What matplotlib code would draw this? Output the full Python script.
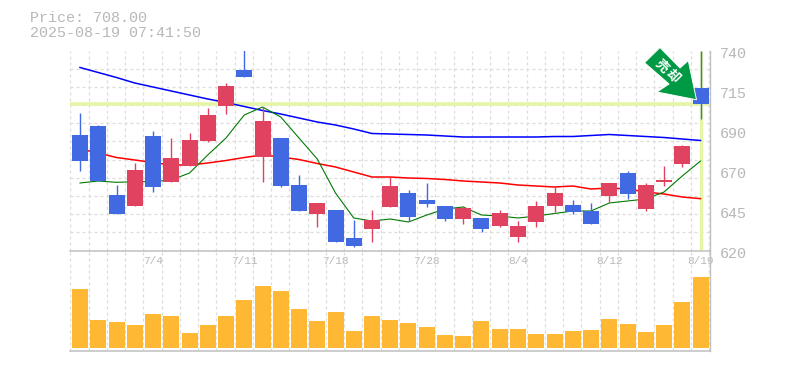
import matplotlib
matplotlib.use("Agg")
import matplotlib.pyplot as plt
import matplotlib.transforms as mtrans
from matplotlib.patches import Polygon
import numpy as np

# daily prices, blue = close below open, red = close above open
opens = [689.3, 694.7, 653.3, 646.7, 688.7, 661.1, 670.7, 685.7, 706.7, 728.3, 676.3, 687.5,
         659.3, 641.9, 644.3, 627.5, 632.9, 646.1, 654.5, 650.3, 646.7, 638.9, 639.5, 634.7,
         628.1, 637.1, 646.7, 647.3, 643.7, 652.7, 666.5, 644.9, 661.1, 671.9, 717.5]
closes = [673.9, 661.7, 641.9, 668.3, 658.1, 675.5, 686.3, 701.3, 718.7, 724.1, 697.7, 658.7,
          643.7, 648.5, 625.1, 622.7, 638.3, 658.7, 640.1, 647.9, 638.9, 645.5, 632.9, 642.5,
          634.7, 646.7, 654.5, 643.1, 635.9, 660.5, 653.9, 659.3, 662.3, 682.7, 708.0]
highs = [702.5, 695.5, 659.3, 672.5, 691.7, 687.5, 690.5, 705.5, 720.5, 745.0, 706.3, 687.5,
         665.3, 648.5, 644.3, 638.3, 644.3, 664.1, 656.3, 660.5, 646.7, 646.7, 639.5, 644.3,
         637.7, 649.7, 658.1, 650.3, 648.5, 660.5, 667.7, 660.5, 670.7, 683.3, 739.7]
lows = [667.9, 661.7, 641.9, 646.7, 655.1, 661.1, 670.7, 685.1, 701.9, 724.1, 661.1, 658.1,
        643.7, 634.1, 625.1, 622.1, 625.1, 646.1, 637.7, 646.1, 637.7, 635.9, 631.1, 634.1,
        625.1, 634.1, 643.1, 641.9, 635.9, 649.1, 650.9, 643.7, 658.7, 670.1, 698.9]

ma_long = [729.8, 726.8, 723.8, 720.5, 718.1, 715.7, 713.3, 710.9, 708.8, 706.4, 704.0, 701.9,
           699.5, 697.1, 695.3, 692.9, 690.2, 689.9, 689.6, 689.3, 688.7, 688.1, 688.1, 688.1,
           688.1, 688.1, 688.4, 688.4, 689.0, 689.6, 689.0, 688.4, 687.8, 686.9, 686.0]
ma_mid = [680.9, 678.5, 675.8, 674.3, 672.8, 671.3, 671.3, 672.5, 674.0, 675.8, 677.3, 676.1,
          674.6, 672.2, 670.1, 667.1, 664.1, 664.1, 663.5, 663.2, 662.6, 661.7, 661.1, 660.5,
          659.3, 658.7, 658.1, 658.7, 656.9, 657.5, 656.9, 655.1, 653.9, 652.1, 651.1]
ma_short = [660.5, 661.7, 660.9, 661.3, 661.3, 662.3, 666.5, 677.3, 687.5, 701.3, 706.1, 700.1,
            687.5, 674.9, 654.5, 639.5, 637.7, 638.9, 637.1, 641.3, 644.9, 646.1, 641.3, 640.7,
            639.5, 640.7, 642.2, 643.7, 643.7, 648.5, 649.7, 650.9, 655.1, 664.7, 673.7]

volumes = [59, 28, 26, 23, 34, 32, 15, 23, 32, 48, 62, 57, 39, 27, 36, 17, 32, 28,
           25, 21, 13, 12, 27, 19, 19, 14, 14, 17, 18, 29, 24, 16, 23, 46, 71]

date_idx = [4, 9, 14, 19, 24, 29, 34]
date_labels = ["7/4", "7/11", "7/18", "7/28", "8/4", "8/12", "8/19"]
price_ticks = [620, 644, 668, 692, 716, 740]
price_labels = ["620", "645", "670", "690", "715", "740"]
last_price = 708.0
title_lines = ["Price: 708.00", "2025-08-19 07:41:50"]
arrow_text = ["売", "却"]

BLUE = "#4169e1"
RED = "#e0435f"
GRID = "#dcdcdc"
FRAME = "#c0c0c0"
TEXT = "#b8b8b8"
CROSS = "#e4f6a6"
W, H = 785, 370

plt.rcParams["font.family"] = ["Liberation Mono", "DejaVu Sans Mono"]
fig = plt.figure(figsize=(W / 100, H / 100), dpi=100)


def box(x0, y0, x1, y1):
    return [x0 / W, 1 - y1 / H, (x1 - x0) / W, (y1 - y0) / H]


ax = fig.add_axes(box(70, 50.5, 710, 250.5))
ax2 = fig.add_axes(box(70, 250.5, 710, 350.5))
xs = np.arange(len(opens))
xlim = (-10 / 18.25, 630 / 18.25)
grid_x = np.arange(36) - 0.53

for a in (ax, ax2):
    a.set_xlim(xlim)
    a.set_xticks(grid_x, minor=True)
    a.grid(which="minor", axis="x", color=GRID, lw=0.9, ls=(0, (2.4, 2.4)))
    a.tick_params(which="both", length=0)
    a.set_axisbelow(True)
    a.patch.set_alpha(0)
    a.spines["top"].set_visible(False)
    a.spines["left"].set_visible(False)
    a.spines["right"].set_color(FRAME)
    a.spines["bottom"].set_color(FRAME)
    a.spines["right"].set_linewidth(1.0)
    a.spines["bottom"].set_linewidth(1.1)

# price panel
ax.set_ylim(620, 740)
ax.set_yticks(np.linspace(620, 740, 12), minor=True)
ax.grid(which="minor", axis="y", color=GRID, lw=0.9, ls=(0, (2.4, 2.4)))
ax.set_xticks(date_idx)
ax.set_xticklabels(date_labels, fontsize=8, color=TEXT)
ax.tick_params(axis="x", which="major", pad=4)
ax.yaxis.tick_right()
ax.set_yticks(price_ticks)
ax.set_yticklabels(price_labels, fontsize=10.8, color=TEXT)
ax.tick_params(axis="y", which="major", pad=7)
shift = mtrans.ScaledTranslation(0, -2.5 / 100, fig.dpi_scale_trans)
for lab in ax.get_yticklabels():
    lab.set_transform(lab.get_transform() + shift)

ax.axhline(last_price, color=CROSS, lw=2.6, zorder=1.5)
ax.vlines(xs[-1] + 0.02, 620.6, 739.5, color=CROSS, lw=2.4, zorder=1.5)

ax.plot(xs, ma_long, color="#0000ff", lw=1.1, zorder=2)
ax.plot(xs, ma_mid, color="#ff0000", lw=1.1, zorder=2)
ax.plot(xs, ma_short, color="#007a00", lw=0.8, zorder=2)

colors = [BLUE if c < o else RED for o, c in zip(opens, closes)]
wicks = ax.vlines(xs, lows, highs, colors=colors, lw=1.0, zorder=3)
wicks.set_snap(True)
ax.bar(xs, np.abs(np.array(closes) - np.array(opens)), bottom=np.minimum(opens, closes),
       width=16 / 18.25, color=colors, zorder=3)

# volume panel, 1 unit is about 1 pixel
ax2.set_ylim(-2.5, 97.5)
ax2.set_yticks([])
ax2.set_xticks([])
ax2.bar(xs, volumes, width=16 / 18.25, color="#ffb833", zorder=3)

# header
fig.text(30 / W, 1 - 18 / H, title_lines[0], fontsize=10.8, color=TEXT, va="center")
fig.text(30 / W, 1 - 33 / H, title_lines[1], fontsize=10.8, color=TEXT, va="center")

# green arrow in figure pixels
arrow_px = [(660, 47.5), (644.5, 62.7), (669, 84), (657, 92), (696.5, 99.8), (688.3, 60.5), (680, 68)]
arrow_xy = [(x / W, 1 - y / H) for x, y in arrow_px]
fig.add_artist(Polygon(arrow_xy, closed=True, transform=fig.transFigure, facecolor="#009944",
                       edgecolor="white", lw=0.7, joinstyle="round", zorder=10))
for s, (px, py) in zip(arrow_text, [(661.5, 66), (673, 76.5)]):
    fig.text(px / W, 1 - py / H, s, family=["Noto Sans CJK JP", "DejaVu Sans"], fontsize=9.4,
             fontweight="bold", color="white", rotation=-45, ha="center", va="center",
             rotation_mode="anchor", zorder=11)

fig.savefig("out.png", dpi=100)
